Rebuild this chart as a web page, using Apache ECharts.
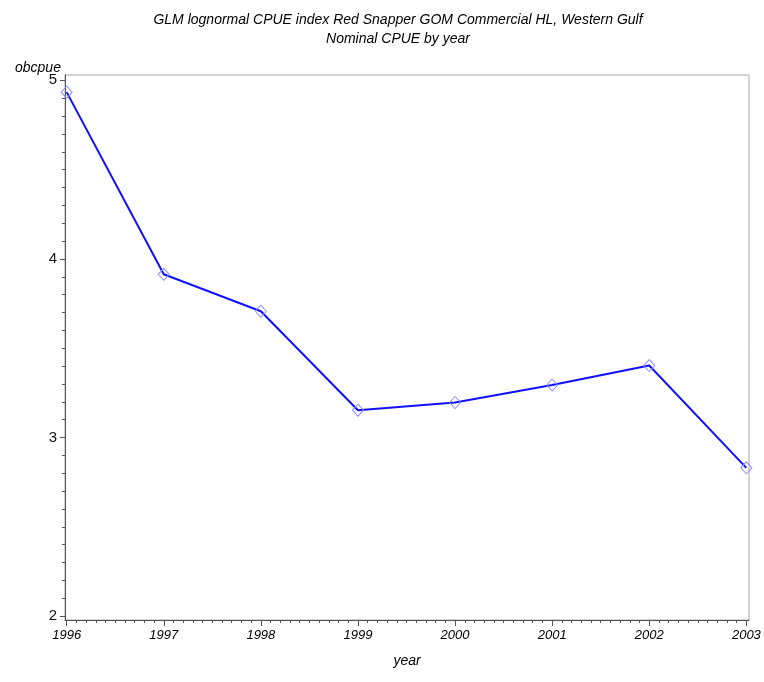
<!DOCTYPE html>
<html>
<head>
<meta charset="utf-8">
<script src="https://cdn.jsdelivr.net/npm/echarts@6/dist/echarts.min.js"></script>
<style>
  html, body { margin: 0; padding: 0; background: #fff; }
  #chart { width: 764px; height: 682px; }
</style>
</head>
<body>
<div id="chart"></div>
<script>
// Nominal CPUE by year, Western Gulf commercial handline
const years = [1996, 1997, 1998, 1999, 2000, 2001, 2002, 2003];
const obcpue = [4.934, 3.914, 3.707, 3.153, 3.196, 3.294, 3.403, 2.830];

const yTicks = [2, 3, 4, 5];
const xTicks = [1996, 1997, 1998, 1999, 2000, 2001, 2002, 2003];

// tenth-step minor ticks between the major ones
function minorsOf(major) {
  const out = [];
  for (let i = 0; i < major.length - 1; i++) {
    for (let k = 1; k < 10; k++) {
      out.push(+(major[i] + (major[i + 1] - major[i]) * k / 10).toFixed(3));
    }
  }
  return out;
}

const xMin = 1995.983, xMax = 2003.027;
const yMin = 1.978, yMax = 5.03;

const FONT = '"Liberation Sans", Arial, sans-serif';
const AXIS_COL = '#555';

const chart = echarts.init(document.getElementById('chart'), null, { renderer: 'canvas' });

chart.setOption({
  animation: false,
  backgroundColor: '#fff',
  title: [
    {
      text: 'GLM lognormal CPUE index Red Snapper GOM Commercial HL, Western Gulf',
      left: 393, top: 8, textAlign: 'center',
      textStyle: { fontFamily: FONT, fontStyle: 'italic', fontWeight: 'normal', fontSize: 14, color: '#000' }
    },
    {
      text: 'Nominal CPUE by year',
      left: 393, top: 27, textAlign: 'center',
      textStyle: { fontFamily: FONT, fontStyle: 'italic', fontWeight: 'normal', fontSize: 14, color: '#000' }
    },
    {
      text: 'obcpue',
      left: 10, top: 56,
      textStyle: { fontFamily: FONT, fontStyle: 'italic', fontWeight: 'normal', fontSize: 14, color: '#000' }
    }
  ],
  grid: {
    left: 65, right: 15, top: 75, bottom: 62,
    show: true, borderColor: '#a8a8a8', borderWidth: 1, backgroundColor: 'transparent'
  },
  xAxis: [
    {
      type: 'value', min: xMin, max: xMax, position: 'bottom',
      name: 'year', nameLocation: 'middle', nameGap: 34,
      nameTextStyle: { fontFamily: FONT, fontStyle: 'italic', fontSize: 14, color: '#000' },
      axisLine: { show: true, lineStyle: { color: AXIS_COL, width: 1 } },
      axisTick: { show: true, customValues: xTicks, length: 6, inside: false, lineStyle: { color: AXIS_COL } },
      axisLabel: {
        customValues: xTicks, margin: 9,
        formatter: v => String(Math.round(v)),
        fontFamily: FONT, fontStyle: 'italic', fontSize: 13, color: '#000'
      },
      splitLine: { show: false }
    },
    {
      type: 'value', min: xMin, max: xMax, position: 'bottom', offset: 0,
      axisLine: { show: false },
      axisTick: { show: true, customValues: minorsOf(xTicks), length: 3, lineStyle: { color: AXIS_COL } },
      axisLabel: { show: false },
      splitLine: { show: false }
    }
  ],
  yAxis: [
    {
      type: 'value', min: yMin, max: yMax, position: 'left',
      axisLine: { show: true, lineStyle: { color: AXIS_COL, width: 1 } },
      axisTick: { show: true, customValues: yTicks, length: 5, lineStyle: { color: AXIS_COL } },
      axisLabel: {
        customValues: yTicks, margin: 8,
        fontFamily: FONT, fontSize: 15, color: '#111'
      },
      splitLine: { show: false }
    },
    {
      type: 'value', min: yMin, max: yMax, position: 'left', offset: 0,
      axisLine: { show: false },
      axisTick: { show: true, customValues: minorsOf(yTicks), length: 3, lineStyle: { color: AXIS_COL } },
      axisLabel: { show: false },
      splitLine: { show: false }
    }
  ],
  series: [
    {
      type: 'line',
      xAxisIndex: 0, yAxisIndex: 0,
      data: years.map((y, i) => [y, obcpue[i]]),
      symbol: 'diamond',
      symbolSize: [11, 12],
      showSymbol: true,
      lineStyle: { color: '#1010ff', width: 2 },
      itemStyle: { color: 'rgba(255,255,255,0)', borderColor: '#8c8cff', borderWidth: 1 },
      z: 3
    }
  ]
});
</script>
</body>
</html>
